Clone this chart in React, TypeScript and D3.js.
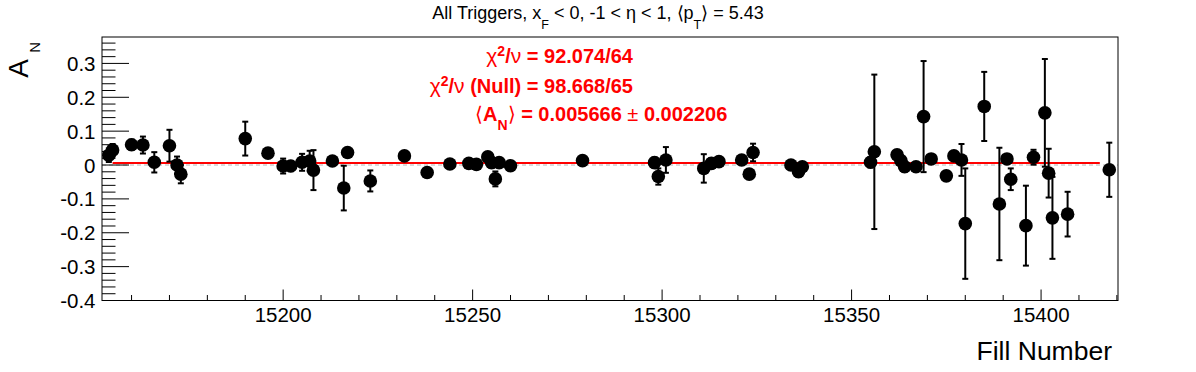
import React from 'react';
import * as d3 from 'd3';

// Fill numbers, asymmetry values and statistical errors
const fills = [
  15154, 15155, 15160, 15163, 15166, 15170, 15172, 15173, 15190, 15196,
  15200, 15202, 15205, 15207, 15208, 15213, 15216, 15217, 15223, 15232,
  15238, 15244, 15249, 15251, 15254, 15255, 15256, 15257, 15260, 15279,
  15298, 15299, 15301, 15311, 15313, 15315, 15321, 15323, 15324, 15334,
  15336, 15337, 15355, 15356, 15362, 15363, 15364, 15367, 15369, 15371,
  15375, 15377, 15379, 15380, 15385, 15389, 15391, 15392, 15396, 15398,
  15401, 15402, 15403, 15407, 15418,
];
const asym = [
  0.029, 0.044, 0.060, 0.059, 0.008, 0.057, 0.000, -0.027, 0.078, 0.035,
  -0.003, -0.003, 0.008, 0.012, -0.015, 0.012, -0.068, 0.037, -0.047, 0.027,
  -0.022, 0.003, 0.005, 0.002, 0.024, 0.007, -0.041, 0.007, -0.002, 0.013,
  0.007, -0.034, 0.015, -0.010, 0.005, 0.010, 0.015, -0.027, 0.037, 0.000,
  -0.020, -0.005, 0.008, 0.039, 0.030, 0.013, -0.005, -0.005, 0.143, 0.018,
  -0.032, 0.027, 0.015, -0.173, 0.173, -0.115, 0.018, -0.042, -0.179, 0.023,
  0.154, -0.024, -0.156, -0.145, -0.014,
];
const errs = [
  0.020, 0.018, 0.015, 0.025, 0.030, 0.047, 0.025, 0.027, 0.050, 0.012,
  0.022, 0.015, 0.025, 0.030, 0.059, 0.012, 0.066, 0.012, 0.031, 0.012,
  0.012, 0.012, 0.012, 0.012, 0.012, 0.015, 0.022, 0.012, 0.012, 0.012,
  0.015, 0.024, 0.038, 0.042, 0.015, 0.012, 0.012, 0.012, 0.026, 0.012,
  0.015, 0.012, 0.015, 0.228, 0.012, 0.015, 0.015, 0.012, 0.164, 0.012,
  0.012, 0.012, 0.047, 0.163, 0.102, 0.166, 0.012, 0.032, 0.118, 0.022,
  0.159, 0.072, 0.121, 0.066, 0.080,
];

const fitValue = 0.005666;
const fitRange = [15155, 15415.5];
const xDomain = [15152.2, 15420.3];
const yDomain = [-0.4, 0.378];
const xMajorTicks = [15200, 15250, 15300, 15350, 15400];
const yMajorTicks = [-0.4, -0.3, -0.2, -0.1, 0, 0.1, 0.2, 0.3];

const FONT = '"Liberation Sans", Arial, Helvetica, sans-serif';

export default function App() {
  const W = 1196, H = 372;
  const L = 102, R = 1118, T = 37, B = 300.5;
  const x = d3.scaleLinear().domain(xDomain).range([L, R]);
  const y = d3.scaleLinear().domain(yDomain).range([B, T]);

  const xMinor = d3.range(15160, 15421, 10).filter((v) => v >= xDomain[0] && v <= xDomain[1] && v % 50 !== 0);
  const yMinor = d3.range(-20, 19).map((i) => i * 0.02).filter((v) => v <= yDomain[1] && Math.abs(Math.round(v * 50) % 5) !== 0);

  const fmtY = (v: number) => (Math.abs(v) < 1e-9 ? '0' : v.toFixed(1));
  const points = fills.map((f, i) => ({ f, v: asym[i], e: errs[i] }));
  const cap = 3;

  return (
    <svg width={W} height={H} style={{ position: 'absolute', left: 0, top: 0, background: '#fff' }} fontFamily={FONT}>
      <rect x={0} y={0} width={W} height={H} fill="#fff" />
      {/* title */}
      <text x={598} y={19} textAnchor="middle" fontSize={18} fill="#000">
        All Triggers, x<tspan fontSize={12.5} dy={10}>F</tspan>
        <tspan dy={-10}> &lt; 0, -1 &lt; η &lt; 1, ⟨p</tspan>
        <tspan fontSize={12.5} dy={10}>T</tspan>
        <tspan dy={-10}>⟩ = 5.43</tspan>
      </text>

      {/* zero reference */}
      <line x1={L} x2={R} y1={y(0)} y2={y(0)} stroke="#b4b4b4" strokeWidth={1} strokeDasharray="4,3" />
      {/* fit line */}
      <line x1={x(fitRange[0])} x2={x(fitRange[1])} y1={y(fitValue)} y2={y(fitValue)} stroke="#ff0000" strokeWidth={2} />

      {/* error bars and markers */}
      {points.map((p, i) => (
        <g key={i}>
          <line x1={x(p.f)} x2={x(p.f)} y1={y(p.v + p.e)} y2={y(p.v - p.e)} stroke="#000" strokeWidth={2} />
          <line x1={x(p.f) - cap} x2={x(p.f) + cap} y1={y(p.v + p.e)} y2={y(p.v + p.e)} stroke="#000" strokeWidth={2} />
          <line x1={x(p.f) - cap} x2={x(p.f) + cap} y1={y(p.v - p.e)} y2={y(p.v - p.e)} stroke="#000" strokeWidth={2} />
        </g>
      ))}
      {points.map((p, i) => (
        <circle key={'c' + i} cx={x(p.f)} cy={y(p.v)} r={6.8} fill="#000" />
      ))}

      {/* frame */}
      <rect x={L} y={T} width={R - L} height={B - T} fill="none" stroke="#000" strokeWidth={1} />

      {/* x axis ticks */}
      {xMajorTicks.map((v) => (
        <g key={'xm' + v}>
          <line x1={x(v)} x2={x(v)} y1={B} y2={B - 11} stroke="#000" strokeWidth={1} />
          <text x={x(v)} y={321.5} textAnchor="middle" fontSize={20.5} fill="#000">{v}</text>
        </g>
      ))}
      {xMinor.map((v) => (
        <line key={'xn' + v} x1={x(v)} x2={x(v)} y1={B} y2={B - 5.5} stroke="#000" strokeWidth={1} />
      ))}

      {/* y axis ticks */}
      {yMajorTicks.map((v) => (
        <g key={'ym' + v}>
          <line x1={L} x2={L + 27} y1={y(v)} y2={y(v)} stroke="#000" strokeWidth={1} />
          <text x={95.5} y={y(v) + 7.5} textAnchor="end" fontSize={20.5} fill="#000">{fmtY(v)}</text>
        </g>
      ))}
      {yMinor.map((v, i) => (
        <line key={'yn' + i} x1={L} x2={L + 13.5} y1={y(v)} y2={y(v)} stroke="#000" strokeWidth={1} />
      ))}

      {/* axis titles */}
      <text x={1112} y={360} textAnchor="end" fontSize={26.5} fill="#000">Fill Number</text>
      <text transform="translate(28,59) rotate(-90)" textAnchor="end" fontSize={28} fill="#000">A</text>
      <text transform="translate(40,42) rotate(-90)" textAnchor="end" fontSize={15} fill="#000">N</text>

      {/* fit statistics */}
      <g fill="#ff0000" fontWeight="bold" fontSize={20}>
        <text x={633} y={63.3} textAnchor="end">
          <tspan fontWeight="normal" fontSize={21}>χ</tspan><tspan fontSize={14} dy={-7}>2</tspan><tspan dy={7}>/</tspan><tspan fontWeight="normal" fontSize={21}>ν</tspan><tspan> = 92.074/64</tspan>
        </text>
        <text x={633} y={92.7} textAnchor="end">
          <tspan fontWeight="normal" fontSize={21}>χ</tspan><tspan fontSize={14} dy={-7}>2</tspan><tspan dy={7}>/</tspan><tspan fontWeight="normal" fontSize={21}>ν</tspan><tspan> (Null) = 98.668/65</tspan>
        </text>
        <text x={475} y={120.7} textAnchor="start">
          <tspan fontWeight="normal">⟨</tspan>A<tspan fontSize={14} dy={9}>N</tspan><tspan dy={-9} fontWeight="normal">⟩</tspan><tspan> = 0.005666 </tspan><tspan fontWeight="normal">±</tspan><tspan> 0.002206</tspan>
        </text>
      </g>
    </svg>
  );
}
